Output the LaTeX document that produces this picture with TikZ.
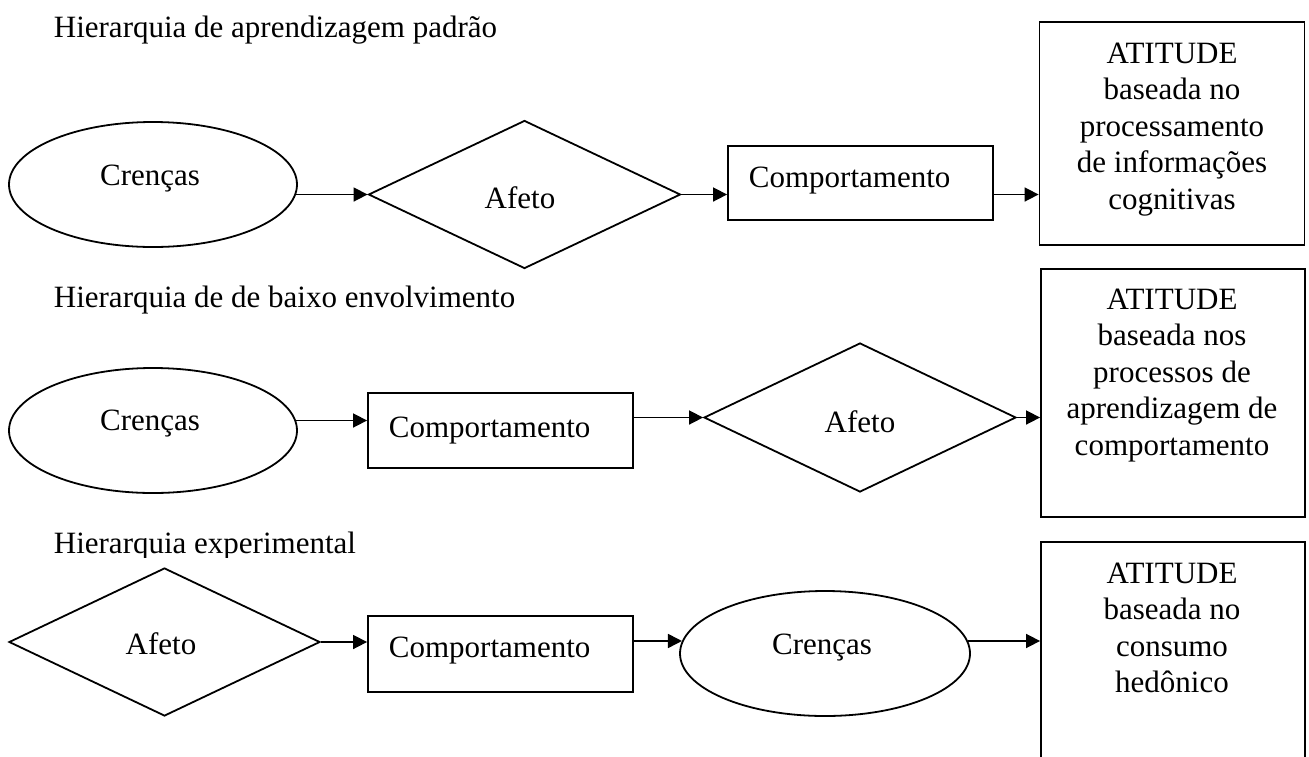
\documentclass[tikz,border=0pt]{standalone}
\usepackage{fontspec}
\setmainfont{Liberation Serif}
\usetikzlibrary{shapes.geometric,arrows.meta}
\begin{document}
\begin{tikzpicture}[x=1pt,y=-1pt, line width=1.8pt,
  every node/.style={font=\fontsize{31}{36.5}\selectfont},
  ell/.style={draw, ellipse, minimum width=288pt, minimum height=125pt, inner sep=0pt},
  dia/.style={draw, diamond, minimum width=312pt, minimum height=148pt, inner sep=0pt},
  rbox/.style={draw, rectangle, minimum width=265pt, minimum height=75pt, inner sep=0pt},
  abox/.style={draw, rectangle, minimum width=265pt, inner sep=0pt},
  lbl/.style={anchor=base, inner sep=0pt},
  lblw/.style={anchor=base west, inner sep=0pt},
  atxt/.style={anchor=north, inner sep=0pt, align=center},
  arr/.style={line width=1.6pt, -{Triangle[length=14pt,width=14pt]}}
]
\useasboundingbox (0,0) rectangle (1309,756);

% Row 1
\node[lblw] (t1) at (53,37) {Hierarquia de aprendizagem padrão};
\node[ell] (c1) at (153,184.5) {};
\node[lbl] (c1t) at (150,185) {Crenças};
\node[dia] (d1) at (524.5,194.5) {};
\node[lbl] (d1t) at (520,208) {Afeto};
\node[rbox, minimum height=74pt] (b1) at (860.5,183) {};
\node[lblw] (b1t) at (748,187) {Comportamento};
\node[abox, minimum height=223pt] (a1) at (1172,133.5) {};
\node[atxt] (a1t) at (1172,41.7) {ATITUDE\\baseada no\\processamento\\de informações\\cognitivas};
\draw[arr] (c1.-4) -- (c1.-4 -| d1.west);
\draw[arr] (d1.east) -- (d1.east -| b1.west);
\draw[arr] (b1.east |- d1.east) -- (a1.west |- d1.east);

% Row 2
\node[lblw] (t2) at (53,307) {Hierarquia de de baixo envolvimento};
\node[ell] (c2) at (153,430.5) {};
\node[lbl] (c2t) at (150,430) {Crenças};
\node[rbox] (b2) at (500.5,430.5) {};
\node[lblw] (b2t) at (388,437) {Comportamento};
\node[dia, minimum height=149pt] (d2) at (860,417.5) {};
\node[lbl] (d2t) at (860,432) {Afeto};
\node[abox, minimum width=264pt, minimum height=248pt] (a2) at (1173,393) {};
\node[atxt] (a2t) at (1172,287.7) {ATITUDE\\baseada nos\\processos de\\aprendizagem de\\comportamento};
\draw[arr] (c2.4) -- (c2.4 -| b2.west);
\draw[arr] (b2.east |- d2.west) -- (d2.west);
\draw[arr] (d2.east) -- (d2.east -| a2.west);

% Row 3
\begin{scope}
\clip (0,520) rectangle (700,557.5);
\node[lblw] (t3) at (53,553) {Hierarquia experimental};
\end{scope}
\node[dia, minimum width=311pt] (d3) at (164.5,642) {};
\node[lbl] (d3t) at (161,654) {Afeto};
\node[rbox, minimum height=76pt] (b3) at (500.5,654) {};
\node[lblw] (b3t) at (388,657) {Comportamento};
\node[ell, minimum width=290pt] (c3) at (825,653.5) {};
\node[lbl] (c3t) at (822,654) {Crenças};
\node[abox, minimum width=264pt, minimum height=258pt] (a3) at (1173,671) {};
\node[atxt] (a3t) at (1172,561.7) {ATITUDE\\baseada no\\consumo\\hedônico};
\draw[arr] (d3.east) -- (d3.east -| b3.west);
\draw[arr] (b3.east |- c3.175) -- (c3.175);
\draw[arr] (c3.5) -- (c3.5 -| a3.west);
\end{tikzpicture}
\end{document}
